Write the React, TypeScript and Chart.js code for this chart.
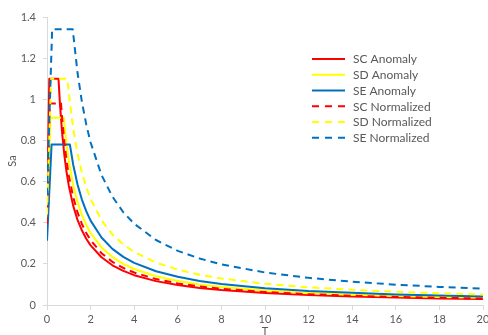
import React, { useEffect, useRef } from "react";
import { Chart, registerables } from "chart.js";

Chart.register(...registerables);

// ---- Data ----
const seriesNames = [
  "SC Anomaly",
  "SD Anomaly",
  "SE Anomaly",
  "SC Normalized",
  "SD Normalized",
  "SE Normalized",
];
const seriesColors = ["#FF0000", "#FFFF00", "#0070C0", "#FF0000", "#FFFF00", "#0070C0"];
const seriesDashed = [false, false, false, true, true, true];

const scAnomalyT = [0, 0.105, 0.527, 0.6, 0.7, 0.8, 0.9, 1.0, 1.2, 1.4, 1.6, 1.8, 2.0, 2.5, 3, 3.5, 4, 5, 6, 7, 8, 10, 12, 14, 16, 18, 20];
const scAnomalySa = [0.44, 1.1, 1.1, 0.967, 0.829, 0.725, 0.644, 0.58, 0.483, 0.414, 0.363, 0.322, 0.29, 0.232, 0.193, 0.166, 0.145, 0.116, 0.097, 0.083, 0.0725, 0.058, 0.048, 0.041, 0.036, 0.032, 0.029];

const sdAnomalyT = [0, 0.154, 0.769, 0.8, 0.9, 1.0, 1.2, 1.4, 1.6, 1.8, 2.0, 2.5, 3, 3.5, 4, 5, 6, 7, 8, 10, 12, 14, 16, 18, 20];
const sdAnomalySa = [0.364, 0.91, 0.91, 0.875, 0.778, 0.7, 0.583, 0.5, 0.438, 0.389, 0.35, 0.28, 0.233, 0.2, 0.175, 0.14, 0.117, 0.1, 0.0875, 0.07, 0.058, 0.05, 0.044, 0.039, 0.035];

const seAnomalyT = [0, 0.21, 1.05, 1.2, 1.4, 1.6, 1.8, 2.0, 2.5, 3, 3.5, 4, 5, 6, 7, 8, 10, 12, 14, 16, 18, 20];
const seAnomalySa = [0.312, 0.78, 0.78, 0.683, 0.586, 0.5125, 0.456, 0.41, 0.328, 0.273, 0.234, 0.205, 0.164, 0.137, 0.117, 0.1025, 0.082, 0.068, 0.059, 0.051, 0.046, 0.041];

const scNormalizedT = [0, 0.129, 0.643, 0.7, 0.8, 0.9, 1.0, 1.2, 1.4, 1.6, 1.8, 2.0, 2.5, 3, 3.5, 4, 5, 6, 7, 8, 10, 12, 14, 16, 18, 20];
const scNormalizedSa = [0.392, 0.98, 0.98, 0.9, 0.788, 0.7, 0.63, 0.525, 0.45, 0.394, 0.35, 0.315, 0.252, 0.21, 0.18, 0.158, 0.126, 0.105, 0.09, 0.079, 0.063, 0.0525, 0.045, 0.039, 0.035, 0.0315];

const sdNormalizedT = [0, 0.187, 0.936, 1.0, 1.2, 1.4, 1.6, 1.8, 2.0, 2.5, 3, 3.5, 4, 5, 6, 7, 8, 10, 12, 14, 16, 18, 20];
const sdNormalizedSa = [0.44, 1.1, 1.1, 1.03, 0.858, 0.736, 0.644, 0.572, 0.515, 0.412, 0.343, 0.294, 0.2575, 0.206, 0.172, 0.147, 0.129, 0.103, 0.086, 0.074, 0.064, 0.057, 0.0515];

const seNormalizedT = [0, 0.236, 1.18, 1.4, 1.6, 1.8, 2.0, 2.5, 3, 3.5, 4, 5, 6, 7, 8, 10, 12, 14, 16, 18, 20];
const seNormalizedSa = [0.536, 1.34, 1.34, 1.129, 0.988, 0.878, 0.79, 0.632, 0.527, 0.451, 0.395, 0.316, 0.263, 0.226, 0.1975, 0.158, 0.132, 0.113, 0.099, 0.088, 0.079];

const seriesT = [scAnomalyT, sdAnomalyT, seAnomalyT, scNormalizedT, sdNormalizedT, seNormalizedT];
const seriesSa = [scAnomalySa, sdAnomalySa, seAnomalySa, scNormalizedSa, sdNormalizedSa, seNormalizedSa];

const xTickValues = [0, 2, 4, 6, 8, 10, 12, 14, 16, 18, 20];
const xTickLabels = ["0", "2", "4", "6", "8", "10", "12", "14", "16", "18", "20"];
const yTickValues = [0, 0.2, 0.4, 0.6, 0.8, 1.0, 1.2, 1.4];
const yTickLabels = ["0", "0.2", "0.4", "0.6", "0.8", "1", "1.2", "1.4"];

const xTitle = "T";
const yTitle = "Sa";

const TEXT_COLOR = "#595959";
const AXIS_COLOR = "#D9D9D9";
const FONT_FAMILY = "Lato, 'Open Sans', sans-serif";
const DASH = [7, 5];

const insideLegend = {
  id: "insideLegend",
  afterDraw(chart: any) {
    const ctx = chart.ctx;
    const area = chart.chartArea;
    const x0 = area.left + 265;
    const x1 = x0 + 33;
    const tx = x1 + 8;
    const y0 = area.top + 42;
    const step = 15.75;
    ctx.save();
    seriesNames.forEach((name, i) => {
      const y = y0 + i * step;
      ctx.beginPath();
      ctx.strokeStyle = seriesColors[i];
      ctx.lineWidth = 2;
      ctx.lineCap = "butt";
      ctx.setLineDash(seriesDashed[i] ? [7, 6] : []);
      ctx.moveTo(x0, y);
      ctx.lineTo(x1, y);
      ctx.stroke();
      ctx.setLineDash([]);
      ctx.fillStyle = TEXT_COLOR;
      ctx.font = `12px ${FONT_FAMILY}`;
      ctx.textAlign = "left";
      ctx.textBaseline = "middle";
      ctx.fillText(name, tx, y + 0.5);
    });
    ctx.restore();
  },
};

export default function App() {
  const canvasRef = useRef<HTMLCanvasElement | null>(null);

  useEffect(() => {
    document.body.style.margin = "0";
    const canvas = canvasRef.current;
    if (!canvas) return;

    const datasets = seriesNames.map((name, i) => ({
      label: name,
      data: seriesT[i].map((t, k) => ({ x: t, y: seriesSa[i][k] })),
      borderColor: seriesColors[i],
      backgroundColor: seriesColors[i],
      borderWidth: 2,
      borderDash: seriesDashed[i] ? DASH : [],
      borderCapStyle: "butt" as const,
      borderJoinStyle: "round" as const,
      pointRadius: 0,
      pointHoverRadius: 0,
      showLine: true,
      fill: false,
      tension: 0,
      order: seriesNames.length - i,
    }));

    const chart = new Chart(canvas, {
      type: "scatter",
      data: { datasets },
      options: {
        responsive: false,
        animation: false,
        devicePixelRatio: 1,
        layout: { padding: { top: 17, right: 5, left: 0, bottom: 0 } },
        plugins: {
          legend: { display: false },
          tooltip: { enabled: false },
        },
        scales: {
          x: {
            type: "linear",
            min: 0,
            max: 20,
            afterBuildTicks: (scale: any) => {
              scale.ticks = xTickValues.map((v) => ({ value: v }));
            },
            afterFit: (scale: any) => {
              scale.height = 30;
              scale.paddingLeft = 0;
              scale.paddingRight = 0;
            },
            ticks: {
              color: TEXT_COLOR,
              font: { family: FONT_FAMILY, size: 11 },
              padding: 3,
              maxRotation: 0,
              autoSkip: false,
              callback: (_v: any, i: number) => xTickLabels[i],
            },
            grid: {
              drawOnChartArea: false,
              drawTicks: true,
              tickLength: 5,
              color: AXIS_COLOR,
            },
            border: { display: true, color: AXIS_COLOR, width: 1 },
            title: {
              display: true,
              text: xTitle,
              color: TEXT_COLOR,
              font: { family: FONT_FAMILY, size: 11 },
              padding: { top: 0, bottom: -3 },
            },
          },
          y: {
            type: "linear",
            min: 0,
            max: 1.4,
            afterBuildTicks: (scale: any) => {
              scale.ticks = yTickValues.map((v) => ({ value: v }));
            },
            afterFit: (scale: any) => {
              scale.width = 47;
            },
            ticks: {
              color: TEXT_COLOR,
              font: { family: FONT_FAMILY, size: 11 },
              padding: 7,
              autoSkip: false,
              callback: (_v: any, i: number) => yTickLabels[i],
            },
            grid: {
              drawOnChartArea: false,
              drawTicks: true,
              tickLength: 4,
              color: AXIS_COLOR,
            },
            border: { display: true, color: AXIS_COLOR, width: 1 },
            title: {
              display: true,
              text: yTitle,
              color: TEXT_COLOR,
              font: { family: FONT_FAMILY, size: 11 },
              padding: { top: 6, bottom: 0 },
            },
          },
        },
      },
      plugins: [insideLegend],
    });

    return () => {
      chart.destroy();
    };
  }, []);

  return (
    <div style={{ position: "absolute", left: 0, top: 0, width: 488, height: 335, background: "#ffffff" }}>
      <canvas ref={canvasRef} width={488} height={335} style={{ display: "block", width: 488, height: 335 }} />
    </div>
  );
}
